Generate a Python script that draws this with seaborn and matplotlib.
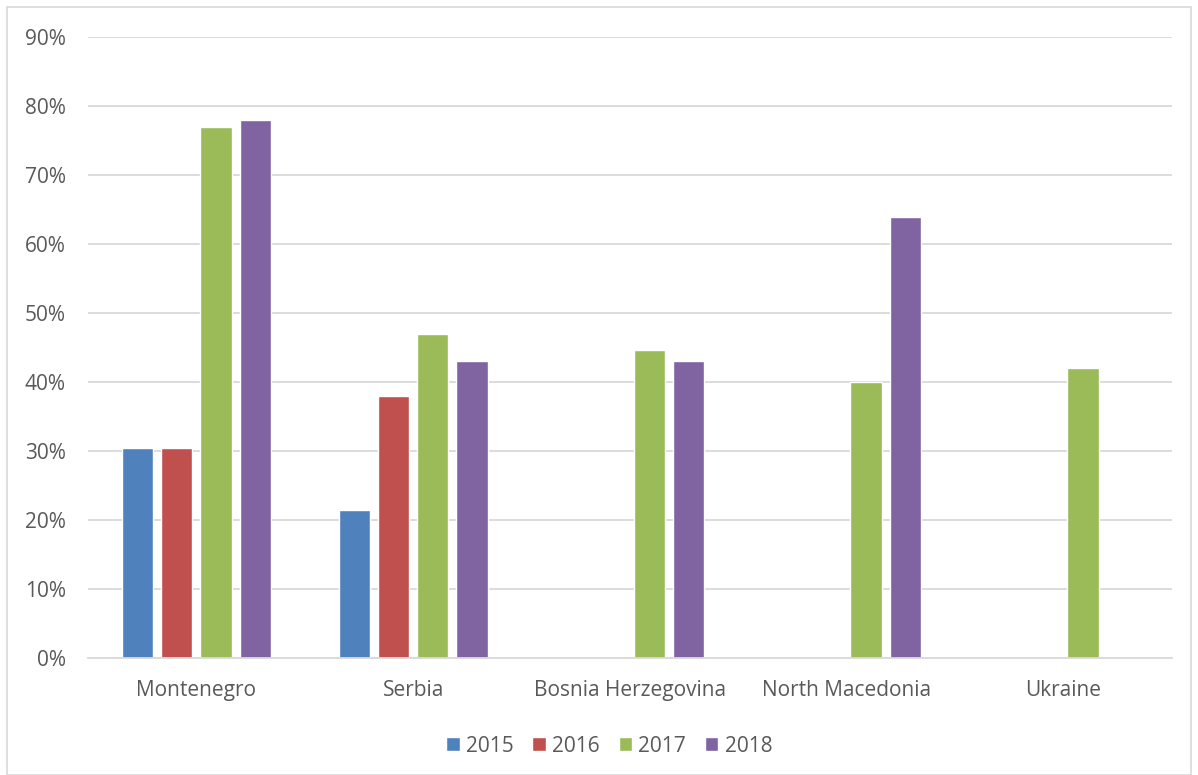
import matplotlib
matplotlib.use("Agg")
import matplotlib.pyplot as plt
import matplotlib.patches as mpatches
import seaborn as sns
import pandas as pd
import numpy as np

countries = ["Montenegro", "Serbia", "Bosnia Herzegovina", "North Macedonia", "Ukraine"]
years = ["2015", "2016", "2017", "2018"]
v2015 = [30.4, 21.5, np.nan, np.nan, np.nan]
v2016 = [30.4, 38.0, np.nan, np.nan, np.nan]
v2017 = [77.0, 47.0, 44.6, 40.0, 42.0]
v2018 = [78.0, 43.0, 43.1, 64.0, np.nan]
colors = ["#4F81BD", "#C0504D", "#9BBB59", "#8064A2"]

rows = []
for y, vals in zip(years, [v2015, v2016, v2017, v2018]):
    for c, v in zip(countries, vals):
        rows.append({"country": c, "year": y, "value": v})
df = pd.DataFrame(rows)

sns.set_theme(style="white")
plt.rcParams['font.family'] = ['Open Sans', 'DejaVu Sans']

fig = plt.figure(figsize=(11.98, 7.75), dpi=100)
ax = fig.add_axes([0.0735, 0.151, 0.9045, 0.801])

sns.barplot(data=df, x="country", y="value", hue="year", order=countries,
            hue_order=years, palette=colors, width=0.724, gap=0.2,
            saturation=1, ax=ax, legend=True, errorbar=None)

ax.set_ylim(0, 90)
ax.set_yticks(np.arange(0, 91, 10))
ax.set_yticklabels([f"{t}%" for t in range(0, 91, 10)])
ax.yaxis.grid(True, color="#D9D9D9", linewidth=1.3)
ax.set_axisbelow(True)
for s in ["top", "right", "left"]:
    ax.spines[s].set_visible(False)
ax.spines["bottom"].set_color("#D9D9D9")
ax.spines["bottom"].set_linewidth(1.3)
ax.set_xlabel("")
ax.set_ylabel("")
ax.tick_params(axis="both", length=0, labelsize=15, colors="#595959")
ax.tick_params(axis="x", pad=16)
ax.tick_params(axis="y", pad=16)
ax.set_xlim(-0.5, 4.5)

handles, labels = ax.get_legend_handles_labels()
ax.legend(handles, labels, loc="upper center", bbox_to_anchor=(0.481, -0.095),
          ncol=4, frameon=False, fontsize=15, labelcolor="#595959",
          handlelength=0.65, handleheight=0.65, handletextpad=0.3, columnspacing=0.9)

fig.patches.append(mpatches.Rectangle((7 / 1198, 0.0), 1 - 14 / 1198, 1 - 7 / 775,
                                      transform=fig.transFigure, fill=False,
                                      edgecolor="#D9D9D9", linewidth=1.2))

fig.savefig("out.png", dpi=100)
